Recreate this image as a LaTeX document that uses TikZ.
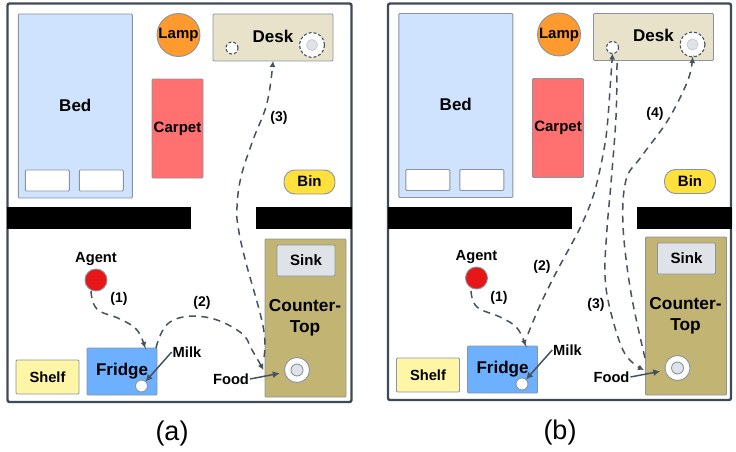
\documentclass[tikz,border=0pt]{standalone}
\usepackage{fontspec}
\setmainfont{Liberation Sans}
\usetikzlibrary{arrows.meta,shapes.geometric}
\definecolor{edge}{HTML}{8A949E}
\definecolor{framecol}{HTML}{3F4A55}
\definecolor{routecol}{HTML}{46525F}
\definecolor{bedcol}{HTML}{CFE3FF}
\definecolor{lampcol}{HTML}{FF9A2E}
\definecolor{deskcol}{HTML}{E8E2CA}
\definecolor{carpetcol}{HTML}{FF7070}
\definecolor{bincol}{HTML}{FFE03D}
\definecolor{countercol}{HTML}{C2B574}
\definecolor{sinkcol}{HTML}{DFE3E8}
\definecolor{fridgecol}{HTML}{6CB0FF}
\definecolor{shelfcol}{HTML}{FFF5A6}
\definecolor{agentcol}{HTML}{E81717}
\newcommand{\fs}[1]{\fontsize{#1}{#1}\selectfont\bfseries}
\tikzset{
    furniture/.style={
        rectangle,
        draw=edge,
        line width=0.9pt,
        rounded corners=1pt,
        inner sep=0pt,
        outer sep=0pt
    },
    wall/.style={
        fill=black,
        draw=none
    },
    round item/.style={
        circle,
        draw=edge,
        line width=0.9pt,
        inner sep=0pt,
        outer sep=0pt
    },
    dashed item/.style={
        circle,
        draw=routecol,
        fill=white,
        dash pattern=on 3pt off 2pt,
        line width=1.1pt,
        inner sep=0pt,
        outer sep=0pt
    },
    route/.style={
        -{Latex[length=6pt,width=6pt]},
        dash pattern=on 7pt off 5.5pt,
        line width=1.5pt,
        color=routecol
    },
    pointer/.style={
        -{Latex[length=7pt,width=7pt]},
        line width=1.5pt,
        color=routecol
    },
    steplabel/.style={
        font=\fs{14},
        inner sep=1pt
    },
    itemlabel/.style={
        font=\fs{14.7},
        inner sep=0pt,
        outer sep=1pt
    }
}

\begin{document}
\begin{tikzpicture}[x=1pt,y=-1pt]

    \useasboundingbox (0,0) rectangle (736,452);

    \foreach \p/\dx/\dyup/\dylow/\fright in {a/0/0/0/351.5,b/380.5/-0.5/-2/350.5}{

        % Upper room
        \begin{scope}[shift={(\dx,\dyup)},name prefix=\p-]
            \node[furniture,fill=bedcol,minimum width=114pt,minimum height=184pt,font=\fs{17}]
                (bed) at (75.3,106) {\raisebox{2pt}{Bed}};
            \node[furniture,fill=white,minimum width=44pt,minimum height=21pt]
                (pillowl) at (47.3,180.5) {};
            \node[furniture,fill=white,minimum width=44pt,minimum height=21pt]
                (pillowr) at (101.3,180.5) {};
            \node[round item,fill=lampcol,minimum size=43pt,font=\fs{15}]
                (lamp) at (178.5,35) {\raisebox{-1pt}{Lamp}};
            \node[furniture,fill=deskcol,minimum width=120pt,minimum height=47pt]
                (desk) at (273,37.5) {};
            \node[font=\fs{17},inner sep=0pt]
                (desklabel) at (273,36) {Desk};
            \node[dashed item,minimum size=12pt]
                (deskspot) at (232,48) {};
            \node[dashed item,minimum size=25pt]
                (deskplate) at (312,45) {};
            \node[round item,draw=edge!60,line width=0.5pt,fill=sinkcol,minimum size=11pt]
                (deskfood) at (312,45) {};
            \node[furniture,fill=carpetcol,minimum width=51pt,minimum height=99pt,font=\fs{15}]
                (carpet) at (177.5,128.5) {Carpet};
            \node[furniture,fill=bincol,rounded corners=11pt,minimum width=51pt,minimum height=24pt,font=\fs{15}]
                (bin) at (309.5,182) {\raisebox{1pt}{Bin}};
        \end{scope}

        % Lower room
        \begin{scope}[shift={(\dx,\dylow)},name prefix=\p-]
            \node[furniture,fill=countercol,minimum width=81pt,minimum height=158pt]
                (counter) at (305.5,318) {};
            \node[furniture,fill=sinkcol,minimum width=58pt,minimum height=31pt,font=\fs{15}]
                (sink) at (306,260.5) {\raisebox{1pt}{Sink}};
            \node[font=\fs{17.3},align=center,inner sep=0pt]
                (counterlabel) at (305,318) {Counter-\\[3.5pt]Top};
            \node[round item,fill=white,minimum size=25pt]
                (plate) at (297,370) {};
            \node[round item,fill=sinkcol,minimum size=12pt]
                (food) at (297,370) {};
            \node[furniture,fill=fridgecol,minimum width=70pt,minimum height=47pt]
                (fridge) at (122,371.5) {};
            \node[font=\fs{17},inner sep=0pt]
                (fridgelabel) at (122,371) {Fridge};
            \node[round item,fill=white,minimum size=12pt]
                (milk) at (141.5,386) {};
            \node[furniture,fill=shelfcol,minimum width=63pt,minimum height=34pt,font=\fs{14.7}]
                (shelf) at (47.5,377) {Shelf};
            \node[round item,fill=agentcol,minimum size=22pt]
                (agent) at (96,280) {};
            \node[itemlabel] (agentlabel) at (96,259) {Agent};
            \node[itemlabel] (milklabel) at (187,352) {Milk};
            \node[itemlabel] (foodlabel) at (231,379) {Food};
        \end{scope}

        % Walls
        \draw[framecol,line width=2.4pt,rounded corners=2pt]
            (\dx+7.5,3.5) rectangle (\dx+\fright,402+\dylow);
        \fill[wall] (\dx+7,207) rectangle (\dx+191,229);
        \fill[wall] (\dx+256,207) rectangle (\dx+\fright+0.5,229);

        % Pointers
        \draw[pointer] (\p-milklabel.west) -- (\p-milk);
        \draw[pointer,shorten >=5pt] (\p-foodlabel.east) -- (\p-plate);
    }

    % Routes (a)
    \draw[route] plot[smooth,tension=0.7] coordinates
        {(91,291) (97,309) (120,319) (137,330) ([xshift=23pt]a-fridge.north)};
    \draw[route] plot[smooth,tension=0.7] coordinates
        {([xshift=34pt]a-fridge.north) (170,322) (205,317) (240,332) (252,350) ([xshift=-21pt]a-plate.west)};
    \draw[route] plot[smooth,tension=0.7] coordinates
        {(264,357) (263,326) (245,259) (238,226) (237,207) (241,177) (253,140) (267,103) (a-desk.south)};

    % Routes (b)
    \draw[route] plot[smooth,tension=0.7] coordinates
        {(471,291) (477,307) (500,317) (517,328) ([xshift=23pt]b-fridge.north)};
    \draw[route] plot[smooth,tension=0.5] coordinates
        {(528,334) (541,303) (558,269) (581,226) (595,190) (606,137) (611,75) (b-deskspot.south)};
    \draw[route] plot[smooth,tension=0.6] coordinates
        {(617,63) (616,117) (611,183) (607,229) (605,276) (611,313) (625,354) ([xshift=-21pt,yshift=-2pt]b-plate.west)};
    \draw[route] plot[smooth,tension=0.6] coordinates
        {(645,358) (631,293) (623,226) (626,180) (641,157) (668,120) (688,80) (b-deskplate.south)};

    % Step labels
    \node[steplabel] (a-one) at (119,299) {(1)};
    \node[steplabel] (a-two) at (202,303) {(2)};
    \node[steplabel] (a-three) at (279,118) {(3)};
    \node[steplabel] (b-one) at (499,298) {(1)};
    \node[steplabel] (b-two) at (542,267) {(2)};
    \node[steplabel] (b-three) at (596,305) {(3)};
    \node[steplabel] (b-four) at (655,114) {(4)};

    % Captions
    \node[font=\fontsize{27}{27}\selectfont] (capa) at (172,434) {(a)};
    \node[font=\fontsize{27}{27}\selectfont] (capb) at (560,433) {(b)};

\end{tikzpicture}
\end{document}
